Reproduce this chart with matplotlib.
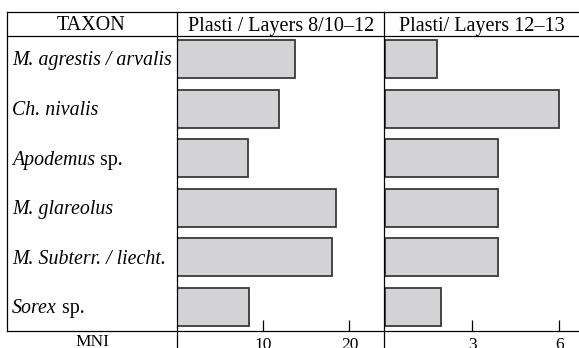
import matplotlib
matplotlib.use('Agg')
import matplotlib.pyplot as plt
from matplotlib.lines import Line2D

# data (MNI)
taxa = ['M. agrestis / arvalis', 'Ch. nivalis', 'Apodemus sp.',
        'M. glareolus', 'M. Subterr. / liecht.', 'Sorex sp.']
# (italic part, roman part) for the row labels
taxa_parts = [('M. agrestis / arvalis', ''), ('Ch. nivalis', ''),
              ('Apodemus', ' sp.'), ('M. glareolus', ''),
              ('M. Subterr. / liecht.', ''), ('Sorex', ' sp.')]
mni_8_12 = [13.7, 11.8, 8.2, 18.4, 18.0, 8.4]
mni_12_13 = [1.8, 6.0, 3.9, 3.9, 3.9, 1.93]
headers = ['TAXON', 'Plasti / Layers 8/10\u201312', 'Plasti/ Layers 12\u201313']
ticks_1 = [10, 20]
ticks_2 = [3, 6]

W, H = 579, 348
plt.rcParams['font.family'] = ['Liberation Serif', 'DejaVu Serif']
fig = plt.figure(figsize=(W / 100, H / 100), dpi=100)


def fx(px):
    return px / W


def fy(py):
    return 1 - py / H


def hline(y, x0, x1):
    fig.add_artist(Line2D([fx(x0), fx(x1)], [fy(y), fy(y)], color='black',
                          lw=0.9, transform=fig.transFigure))


def vline(x, y0, y1):
    fig.add_artist(Line2D([fx(x), fx(x)], [fy(y0), fy(y1)], color='black',
                          lw=0.9, transform=fig.transFigure))


top, head_bot, bot = 12, 36, 331
col1, col2, right = 177, 385, 579

ax1 = fig.add_axes([fx(col1), fy(bot), fx(384 - col1), (bot - head_bot) / H])
ax2 = fig.add_axes([fx(col2), fy(bot), fx(right - col2), (bot - head_bot) / H])

pos = list(range(len(taxa)))
for ax, vals, xmax, ticks in [(ax1, mni_8_12, 24.0, ticks_1),
                              (ax2, mni_12_13, 6.68, ticks_2)]:
    ax.barh(pos, vals, height=0.77, color='#d3d3d5', edgecolor='#3a3a3a',
            linewidth=1.3)
    ax.set_xlim(0, xmax)
    ax.set_ylim(5.49, -0.47)
    for s in ax.spines.values():
        s.set_visible(False)
    ax.set_yticks([])
    ax.set_xticks(ticks)
    ax.tick_params(axis='x', direction='in', length=8, width=0.9,
                   labelsize=12.5, pad=4)
    ax.patch.set_alpha(0)

# table lines
hline(top, 7, right)
hline(head_bot, 7, right)
hline(bot, 7, right)
vline(7, top, bot)
vline(col1, top, H)
vline(384, top, H)

# header texts
fig.text(fx(91), fy(26), headers[0], ha='center', va='center', fontsize=14.5)
fig.text(fx(281), fy(26), headers[1], ha='center', va='center', fontsize=14.5)
fig.text(fx(482), fy(26), headers[2], ha='center', va='center', fontsize=14.5)

# row labels
row_y = [61 + 49.5 * i for i in pos]
for (it, rm), y in zip(taxa_parts, row_y):
    t = fig.text(fx(12), fy(y), it, ha='left', va='center', fontsize=14.3,
                 style='italic')
    if rm:
        fig.canvas.draw()
        bb = t.get_window_extent()
        fig.text(bb.x1 / W, fy(y), rm, ha='left', va='center', fontsize=14.3)

fig.text(fx(92), fy(342), 'MNI', ha='center', va='center', fontsize=12.5)

fig.savefig('out.png', dpi=100)
